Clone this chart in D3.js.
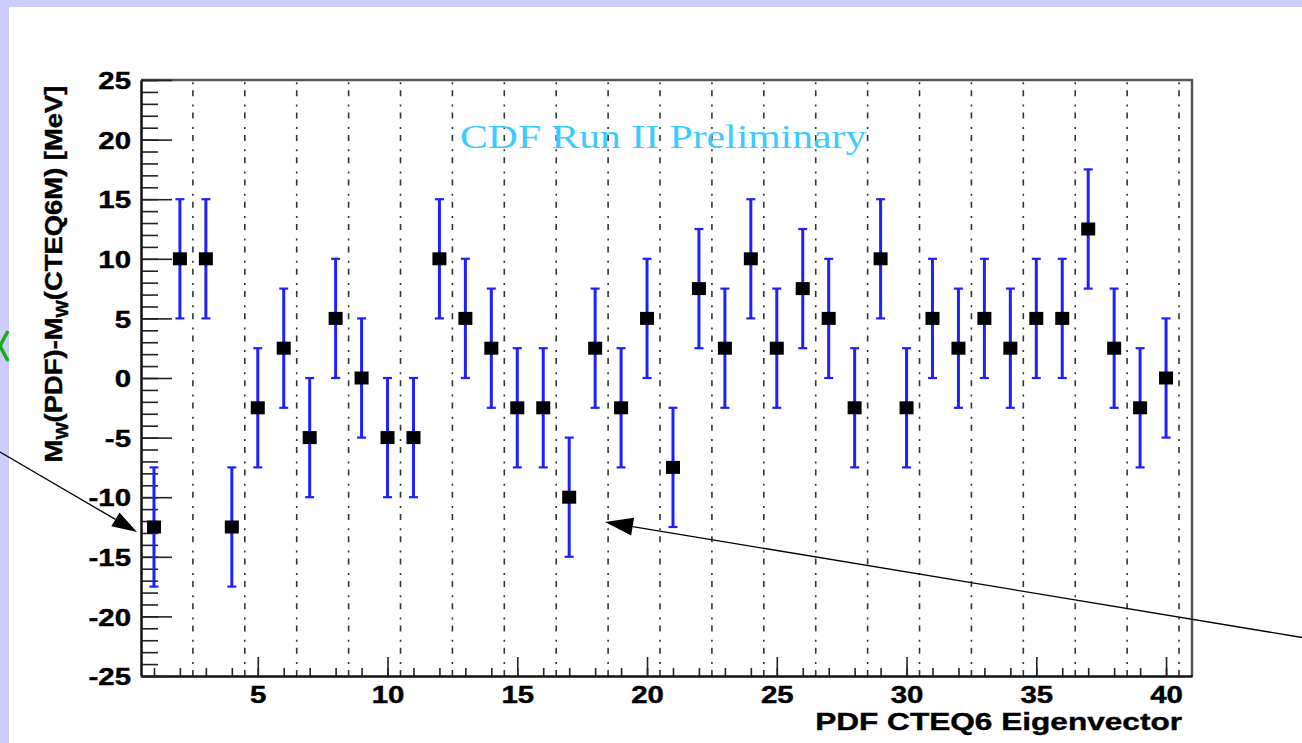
<!DOCTYPE html>
<html>
<head>
<meta charset="utf-8">
<title>CDF W mass PDF eigenvectors</title>
<script src="https://d3js.org/d3.v7.min.js"></script>
<style>
  body { margin: 0; background: #ccccff; }
  svg { display: block; }
  .tick line { stroke: #222; stroke-width: 1.6px; }
  .domain { stroke: #111; stroke-width: 2px; }
</style>
</head>
<body>
<svg id="chart" width="1302" height="743"></svg>
<script>
  // data: shift of M_W per CTEQ6 eigenvector, +/- error
  const eigenvector = [1, 2, 3, 4, 5, 6, 7, 8, 9, 10, 11, 12, 13, 14, 15, 16, 17, 18, 19, 20,
                       21, 22, 23, 24, 25, 26, 27, 28, 29, 30, 31, 32, 33, 34, 35, 36, 37, 38, 39, 40];
  const deltaMw = [-12.5, 10, 10, -12.5, -2.5, 2.5, -5, 5, 0, -5, -5, 10, 5, 2.5, -2.5, -2.5, -10, 2.5, -2.5, 5,
                   -7.5, 7.5, 2.5, 10, 2.5, 7.5, 5, -2.5, 10, -2.5, 5, 2.5, 5, 2.5, 5, 5, 12.5, 2.5, -2.5, 0];
  const errMw = [5, 5, 5, 5, 5, 5, 5, 5, 5, 5, 5, 5, 5, 5, 5, 5, 5, 5, 5, 5,
                 5, 5, 5, 5, 5, 5, 5, 5, 5, 5, 5, 5, 5, 5, 5, 5, 5, 5, 5, 5];

  const xMajor = [5, 10, 15, 20, 25, 30, 35, 40];
  const xMinor = d3.range(1, 41);
  const yMajor = [-25, -20, -15, -10, -5, 0, 5, 10, 15, 20, 25];
  const yMinor = d3.range(-25, 26);
  const gridX = d3.range(2.5, 41, 2);

  const svg = d3.select("#chart");
  const pLeft = 141, pRight = 1192, pTop = 80, pBottom = 676;

  const x = d3.scaleLinear().domain([0.5, 41]).range([pLeft, pRight]);
  const y = d3.scaleLinear().domain([-25, 25]).range([pBottom, pTop]);

  // page background: lavender border with white sheet
  svg.append("rect").attr("width", 1302).attr("height", 743).attr("fill", "#ccccff");
  svg.append("rect").attr("x", 9).attr("y", 7).attr("width", 1293).attr("height", 736).attr("fill", "#fff");

  // little green mark cut off at the left edge
  svg.append("path").attr("d", "M8,331 L0,346 L8,361")
    .attr("fill", "none").attr("stroke", "#12b012").attr("stroke-width", 3.5);

  // dash-dot vertical separators between eigenvector pairs
  svg.append("g").selectAll("line").data(gridX).join("line")
    .attr("x1", d => x(d)).attr("x2", d => x(d))
    .attr("y1", pTop).attr("y2", pBottom)
    .attr("stroke", "#333").attr("stroke-width", 1.6)
    .attr("stroke-dasharray", "2,6,6,8.3").attr("stroke-dashoffset", 20);

  // frame (top and right are drawn grey)
  svg.append("path")
    .attr("d", `M${pLeft},${pTop} H${pRight} V${pBottom}`)
    .attr("fill", "none").attr("stroke", "#555").attr("stroke-width", 2.5);

  // axes
  const label = d => String(d);
  const gx = svg.append("g").attr("transform", `translate(0,${pBottom})`);
  gx.append("g").call(d3.axisBottom(x).tickValues(xMinor).tickSize(-8).tickFormat("").tickSizeOuter(0));
  gx.append("g").call(d3.axisBottom(x).tickValues(xMajor).tickSize(-19).tickPadding(11).tickFormat(label).tickSizeOuter(0));

  const gy = svg.append("g").attr("transform", `translate(${pLeft},0)`);
  gy.append("g").call(d3.axisLeft(y).tickValues(yMinor).tickSize(-17).tickFormat("").tickSizeOuter(0));
  gy.append("g").call(d3.axisLeft(y).tickValues(yMajor).tickSize(-31).tickPadding(10).tickFormat(label).tickSizeOuter(0));

  svg.selectAll(".tick text")
    .attr("font-family", "'Liberation Sans', Arial, sans-serif")
    .attr("font-weight", "bold")
    .attr("font-size", 23)
    .attr("fill", "#000")
    .attr("stroke", "#000").attr("stroke-width", 0.4)
    .each(function() {
      const t = d3.select(this);
      const tx = +t.attr("x") || 0;
      t.attr("x", 0).attr("transform", `translate(${tx},0) scale(1.28,1)`);
    });
  gy.selectAll(".tick text").attr("dy", "0.38em");

  // error bars
  const pts = eigenvector.map((e, i) => ({ e, v: deltaMw[i], err: errMw[i] }));
  const eb = svg.append("g").attr("stroke", "#2020ff");
  eb.selectAll(".bar").data(pts).join("line").attr("class", "bar")
    .attr("x1", d => x(d.e)).attr("x2", d => x(d.e))
    .attr("y1", d => y(d.v - d.err)).attr("y2", d => y(d.v + d.err))
    .attr("stroke-width", 3);
  eb.selectAll(".capHi").data(pts).join("line").attr("class", "capHi")
    .attr("x1", d => x(d.e) - 4.5).attr("x2", d => x(d.e) + 4.5)
    .attr("y1", d => y(d.v + d.err)).attr("y2", d => y(d.v + d.err))
    .attr("stroke-width", 2.2);
  eb.selectAll(".capLo").data(pts).join("line").attr("class", "capLo")
    .attr("x1", d => x(d.e) - 4.5).attr("x2", d => x(d.e) + 4.5)
    .attr("y1", d => y(d.v - d.err)).attr("y2", d => y(d.v - d.err))
    .attr("stroke-width", 2.2);

  // square markers
  svg.append("g").selectAll("rect").data(pts).join("rect")
    .attr("x", d => x(d.e) - 7).attr("y", d => y(d.v) - 6.5)
    .attr("width", 14).attr("height", 13)
    .attr("fill", "#000");

  // stretch a text horizontally to a given width
  function fit(sel, width, tx, ty, rot) {
    const w = sel.node().getBBox().width;
    sel.attr("transform", `translate(${tx},${ty})${rot ? " rotate(" + rot + ")" : ""} scale(${width / w},1)`);
  }

  // titles
  const xt = svg.append("text")
    .attr("text-anchor", "end")
    .attr("font-family", "'Liberation Sans', Arial, sans-serif")
    .attr("font-weight", "bold").attr("font-size", 24)
    .attr("stroke", "#000").attr("stroke-width", 0.4)
    .text("PDF CTEQ6 Eigenvector");
  fit(xt, 367, 1182, 730);

  const yt = svg.append("text")
    .attr("text-anchor", "middle")
    .attr("font-family", "'Liberation Sans', Arial, sans-serif")
    .attr("font-weight", "bold").attr("font-size", 24)
    .attr("stroke", "#000").attr("stroke-width", 0.4);
  yt.append("tspan").text("M");
  yt.append("tspan").attr("dy", 6).attr("font-size", 16).text("W");
  yt.append("tspan").attr("dy", -6).text("(PDF)-M");
  yt.append("tspan").attr("dy", 6).attr("font-size", 16).text("W");
  yt.append("tspan").attr("dy", -6).text("(CTEQ6M) [MeV]");
  fit(yt, 377, 62, 274, -90);

  const tt = svg.append("text")
    .attr("font-family", "'Liberation Serif', 'Times New Roman', serif")
    .attr("font-size", 33).attr("fill", "#3ccbff")
    .text("CDF Run II Preliminary");
  fit(tt, 407, 460, 148);

  // annotation arrows
  const arrows = [
    { from: [0, 452], to: [137, 532], len: 25, half: 8 },
    { from: [1302, 637.5], to: [605, 522], len: 28, half: 9 }
  ];
  arrows.forEach(a => {
    const dx = a.to[0] - a.from[0], dy = a.to[1] - a.from[1];
    const n = Math.hypot(dx, dy), ux = dx / n, uy = dy / n;
    const bx = a.to[0] - ux * a.len, by = a.to[1] - uy * a.len;
    svg.append("line")
      .attr("x1", a.from[0]).attr("y1", a.from[1]).attr("x2", bx).attr("y2", by)
      .attr("stroke", "#000").attr("stroke-width", 1.3);
    svg.append("path")
      .attr("d", `M${a.to[0]},${a.to[1]} L${bx - uy * a.half},${by + ux * a.half} L${bx + uy * a.half},${by - ux * a.half} Z`)
      .attr("fill", "#000");
  });
</script>
</body>
</html>
